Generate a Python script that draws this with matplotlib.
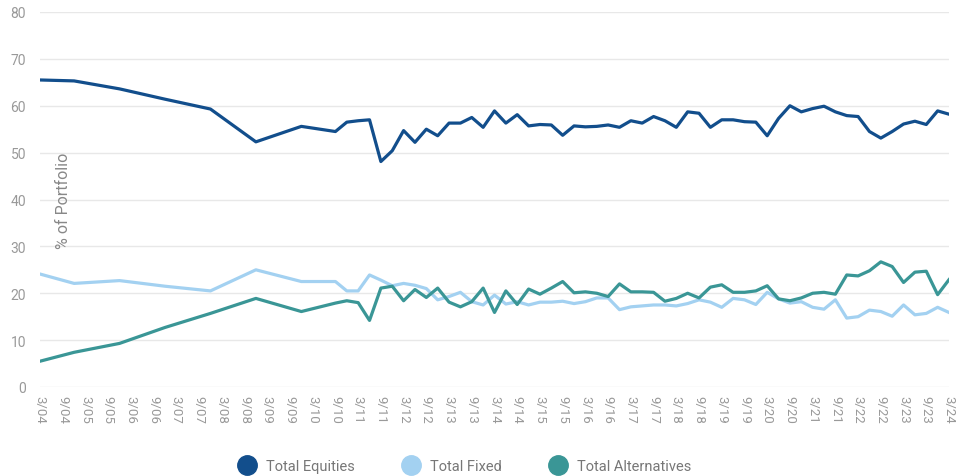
import matplotlib
matplotlib.use("Agg")
import matplotlib.pyplot as plt
from matplotlib.lines import Line2D

plt.rcParams['font.family'] = ['Roboto', 'DejaVu Sans']

# observation dates (month/yy), annual early on, quarterly later
dates = ["3/04", "12/04", "12/05", "12/06", "12/07", "12/08", "12/09",
         "9/10", "12/10", "3/11", "6/11", "9/11", "12/11"]
for yy in range(12, 24):
    for mm in (3, 6, 9, 12):
        dates.append(f"{mm}/{yy:02d}")
dates.append("3/24")

equities = [65.5, 65.3, 63.6, 61.4, 59.3, 52.3, 55.6, 54.5, 56.5, 56.8, 57.0, 48.1, 50.4,
            54.7, 52.2, 55.0, 53.6,
            56.3, 56.3, 57.5, 55.4,
            58.9, 56.3, 58.1, 55.7,
            56.0, 55.9, 53.7, 55.7,
            55.5, 55.6, 55.9, 55.4,
            56.8, 56.3, 57.7, 56.8,
            55.4, 58.7, 58.4, 55.4,
            57.0, 57.0, 56.6, 56.5,
            53.6, 57.3, 60.0, 58.7,
            59.4, 59.9, 58.7, 57.9,
            57.7, 54.5, 53.1, 54.5,
            56.1, 56.7, 56.0, 58.9,
            58.2]

fixed = [24.1, 22.1, 22.7, 21.5, 20.5, 25.0, 22.5, 22.5, 20.5, 20.5, 23.9, 22.8, 21.6,
         22.1, 21.7, 21.0, 18.6,
         19.3, 20.2, 18.2, 17.5,
         19.6, 17.7, 18.2, 17.5,
         18.1, 18.1, 18.3, 17.8,
         18.2, 19.0, 19.0, 16.5,
         17.1, 17.3, 17.5, 17.5,
         17.3, 17.8, 18.6, 18.1,
         17.0, 18.9, 18.6, 17.6,
         20.2, 18.8, 17.9, 18.2,
         17.0, 16.6, 18.6, 14.7,
         15.0, 16.4, 16.1, 15.1,
         17.5, 15.4, 15.7, 17.0,
         15.9]

alternatives = [5.5, 7.4, 9.3, 12.7, 15.7, 18.9, 16.1, 17.9, 18.4, 18.0, 14.2, 21.1, 21.5,
                18.4, 20.8, 19.1, 21.1,
                18.1, 17.1, 18.2, 21.1,
                15.9, 20.5, 17.6, 20.9,
                19.8, 21.1, 22.5, 20.1,
                20.3, 20.0, 19.3, 22.0,
                20.3, 20.3, 20.2, 18.3,
                18.9, 20.0, 19.0, 21.3,
                21.8, 20.2, 20.2, 20.5,
                21.6, 18.8, 18.4, 19.0,
                20.0, 20.2, 19.8, 23.9,
                23.7, 24.8, 26.7, 25.7,
                22.3, 24.5, 24.7, 19.7,
                22.9]

tick_labels = []
for yy in range(4, 24):
    tick_labels += [f"3/{yy:02d}", f"9/{yy:02d}"]
tick_labels.append("3/24")

series_names = ["Total Equities", "Total Fixed", "Total Alternatives"]
colors = ["#124e8c", "#a3d1f1", "#3a9696"]


def to_months(d):
    m, y = d.split("/")
    return (int(y) - 4) * 12 + int(m) - 3


x = [to_months(d) for d in dates]

fig = plt.figure(figsize=(9.64, 4.77), dpi=100)
ax = fig.add_axes([40 / 964, 89 / 477, 909 / 964, 375 / 477])

for vals, c in zip([equities, fixed, alternatives], colors):
    ax.plot(x, vals, color=c, lw=2.3, solid_joinstyle='round', zorder=3)

ax.set_xlim(0, 240)
ax.set_ylim(0, 80)
ax.set_yticks(range(0, 81, 10))
ax.set_xticks(range(0, 241, 6))
ax.set_xticklabels(tick_labels, rotation=-90, fontsize=9.5, color="#999999")
ax.tick_params(axis='y', labelsize=10, colors="#999999", length=0, pad=10)
ax.tick_params(axis='x', length=0, pad=6)
ax.grid(axis='y', color="#e8e8e8", lw=1)
ax.set_axisbelow(True)
for s in ax.spines.values():
    s.set_visible(False)

ax.text(23 / 909, 0.5, "% of Portfolio", transform=ax.transAxes, rotation=90,
        ha='center', va='center', fontsize=11.5, color="#888888")

handles = [Line2D([], [], ls='none', marker='o', markersize=14, color=c) for c in colors]
fig.legend(handles, series_names, loc='center', bbox_to_anchor=(0.479, 10 / 477), ncol=3,
           frameon=False, fontsize=10.5, labelcolor="#777777", handletextpad=0.3,
           columnspacing=2.85)

fig.savefig("out.png", dpi=100)
